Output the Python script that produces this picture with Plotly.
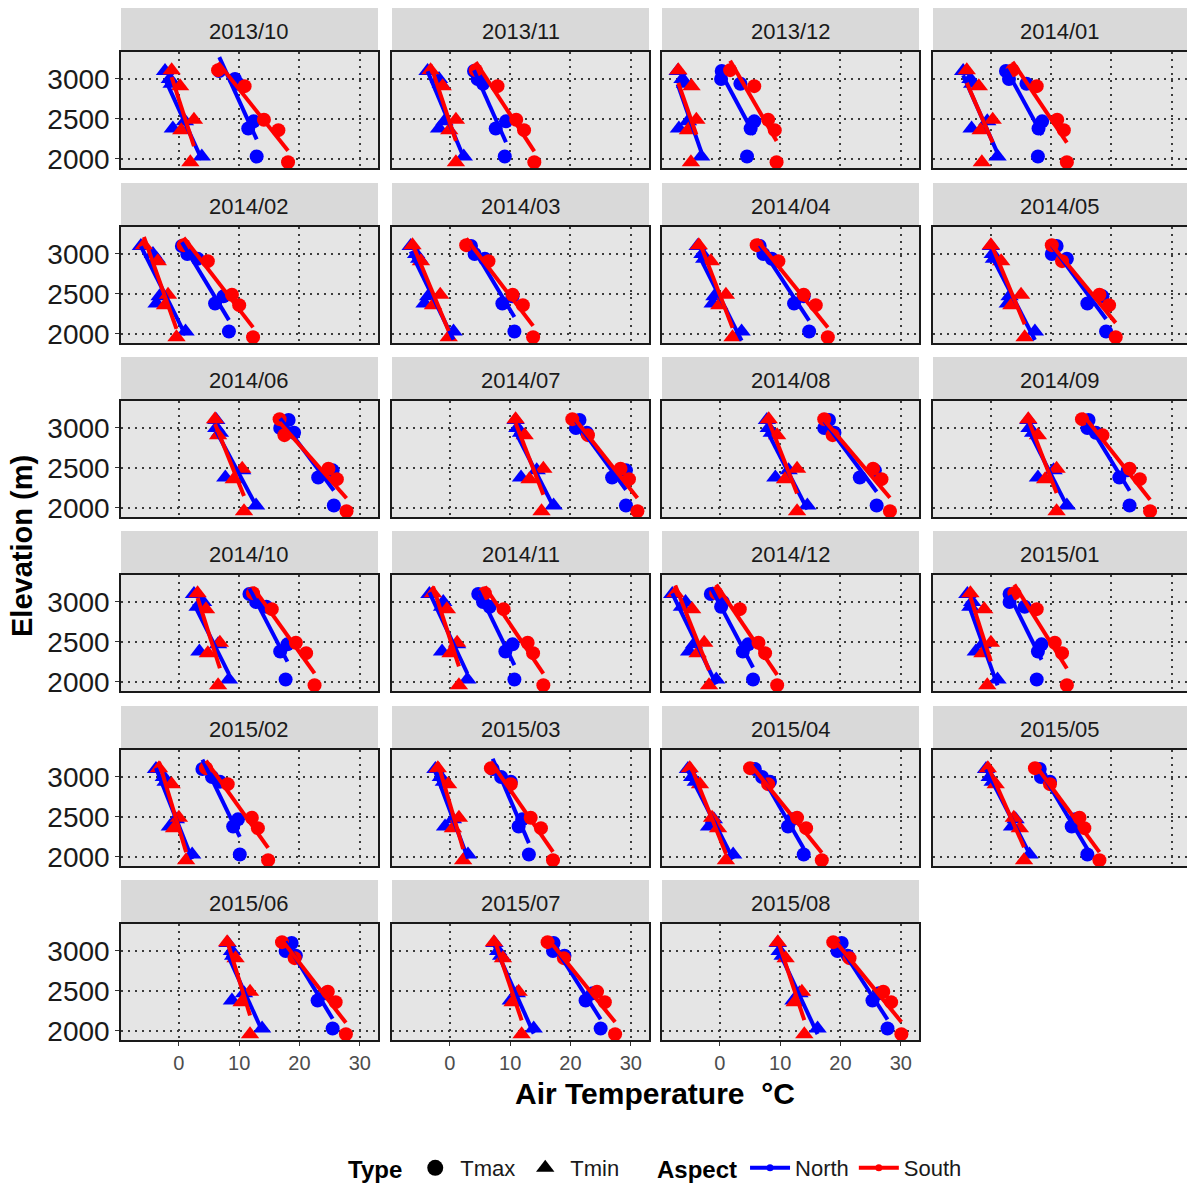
import numpy as np
import plotly.graph_objects as go

months = ["2013/10", "2013/11", "2013/12", "2014/01", "2014/02", "2014/03",
          "2014/04", "2014/05", "2014/06", "2014/07", "2014/08", "2014/09",
          "2014/10", "2014/11", "2014/12", "2015/01", "2015/02", "2015/03",
          "2015/04", "2015/05", "2015/06", "2015/07", "2015/08"]

elev_north = [3100, 3000, 2940, 2470, 2380, 2030]
elev_south = [3110, 2910, 2490, 2360, 1960]

north_tmin = [
    [-2.3, -1.5, -1.2, 1.0, -1.0, 3.8],
    [-3.7, -1.8, -1.5, -0.9, -1.8, 2.3],
    [-7.0, -6.2, -5.8, -5.3, -6.8, -3.1],
    [-4.6, -3.4, -3.1, -0.6, -3.2, 1.1],
    [-6.3, -4.3, -3.7, -3.2, -3.7, 1.1],
    [-6.5, -5.6, -5.1, -3.6, -4.2, 0.6],
    [-3.7, -2.9, -2.6, -0.9, -1.2, 3.6],
    [0.0, 0.3, 0.5, 3.1, 2.8, 7.3],
    [6.2, 6.2, 6.8, 10.5, 7.7, 12.8],
    [10.9, 11.2, 11.8, 14.4, 11.8, 17.2],
    [7.8, 8.1, 8.6, 11.4, 9.2, 14.5],
    [6.2, 6.4, 7.0, 10.4, 7.8, 12.6],
    [2.5, 4.0, 3.1, 6.5, 3.4, 8.3],
    [-3.4, -1.1, -1.3, 1.2, -1.3, 2.9],
    [-7.9, -5.7, -6.3, -4.3, -5.1, -0.6],
    [-3.9, -3.1, -3.4, -1.4, -2.5, 1.1],
    [-3.8, -2.5, -2.2, -0.5, -1.5, 2.2],
    [-2.4, -1.5, -1.0, 0.5, -0.8, 3.0],
    [-5.3, -4.6, -4.0, -1.0, -1.8, 2.2],
    [-0.8, -0.2, 0.3, 4.1, 3.5, 6.4],
    [8.1, 8.8, 9.0, 10.8, 8.8, 13.8],
    [7.4, 8.0, 8.5, 11.1, 10.1, 13.9],
    [9.6, 9.9, 10.4, 13.2, 12.2, 16.2],
]

south_tmin = [
    [-1.2, 0.2, 2.5, 0.4, 1.9],
    [-3.2, -1.2, 1.0, -0.1, 1.0],
    [-6.9, -4.7, -3.9, -5.3, -4.8],
    [-4.0, -2.0, 0.3, -1.7, -1.5],
    [-5.8, -3.5, -1.8, -2.3, -0.4],
    [-6.2, -4.8, -1.6, -2.8, -0.2],
    [-3.5, -1.5, 1.0, -0.1, 2.1],
    [0.0, 1.7, 5.0, 3.4, 5.6],
    [6.0, 6.5, 10.5, 9.1, 10.8],
    [10.9, 12.4, 15.5, 13.2, 15.2],
    [8.1, 9.5, 12.8, 10.8, 12.8],
    [6.2, 7.8, 10.9, 9.0, 10.9],
    [3.1, 4.5, 6.8, 4.8, 6.5],
    [-2.8, -0.5, 1.2, 0.1, 1.5],
    [-7.4, -4.6, -2.6, -3.7, -1.8],
    [-3.4, -1.1, 0.0, -1.4, -0.6],
    [-3.3, -1.2, 0.0, -0.8, 1.2],
    [-2.0, -0.3, 1.5, 0.5, 2.2],
    [-5.0, -3.3, -1.3, -0.3, 1.0],
    [-0.5, 0.8, 3.8, 4.8, 5.5],
    [8.0, 9.4, 11.8, 10.4, 11.8],
    [7.3, 8.8, 11.4, 10.4, 11.9],
    [9.6, 10.9, 13.6, 12.4, 14.0],
]

north_tmax = [
    [6.7, 9.3, 9.8, 12.4, 11.5, 12.9],
    [4.0, 4.6, 5.5, 9.3, 7.6, 9.1],
    [0.3, 0.2, 3.4, 5.7, 5.1, 4.5],
    [2.5, 3.0, 5.9, 8.5, 7.9, 7.8],
    [0.5, 1.4, 3.1, 7.4, 6.0, 8.3],
    [3.5, 4.1, 5.8, 10.4, 8.7, 10.7],
    [6.6, 7.2, 8.6, 13.9, 12.3, 14.8],
    [10.9, 10.1, 12.6, 18.5, 16.0, 19.1],
    [18.2, 16.8, 19.1, 25.5, 23.1, 25.7],
    [21.5, 20.9, 22.7, 29.2, 26.9, 29.2],
    [18.1, 17.3, 19.0, 25.7, 23.2, 26.0],
    [16.2, 16.0, 17.4, 22.7, 21.3, 23.0],
    [11.7, 12.8, 14.5, 18.0, 16.8, 17.7],
    [4.7, 5.5, 6.6, 10.4, 9.2, 10.7],
    [-1.5, 0.5, 0.2, 4.7, 3.8, 5.5],
    [3.1, 3.1, 5.6, 8.4, 7.8, 7.6],
    [3.9, 5.5, 6.8, 9.8, 9.0, 10.1],
    [7.1, 8.5, 10.1, 12.0, 11.4, 13.1],
    [5.8, 7.0, 8.3, 12.0, 11.3, 13.9],
    [8.1, 8.3, 9.8, 14.0, 13.4, 16.0],
    [18.7, 17.7, 19.4, 24.4, 23.0, 25.5],
    [17.2, 17.1, 19.0, 23.7, 22.5, 25.0],
    [20.2, 19.5, 21.2, 26.4, 25.3, 27.8],
]

south_tmax = [
    [6.5, 10.9, 14.1, 16.5, 18.1],
    [4.3, 7.9, 11.0, 12.3, 14.0],
    [1.7, 5.7, 8.0, 9.1, 9.4],
    [3.6, 7.6, 11.0, 12.1, 12.6],
    [0.8, 4.8, 8.8, 10.0, 12.3],
    [2.7, 6.4, 10.4, 12.1, 13.8],
    [6.1, 9.7, 13.9, 15.9, 17.9],
    [10.1, 11.8, 18.0, 19.6, 20.7],
    [16.7, 17.5, 24.8, 26.2, 27.8],
    [20.3, 22.9, 28.3, 29.7, 31.1],
    [17.3, 18.7, 25.4, 26.8, 28.2],
    [15.1, 18.5, 23.0, 24.7, 26.4],
    [12.3, 15.4, 19.4, 21.1, 22.5],
    [5.8, 8.9, 12.9, 13.8, 15.5],
    [-0.6, 3.3, 6.4, 7.5, 9.5],
    [3.9, 7.6, 10.6, 11.8, 12.6],
    [4.5, 8.1, 12.1, 13.1, 14.8],
    [6.8, 10.1, 13.4, 15.1, 17.1],
    [5.0, 8.0, 12.8, 14.3, 16.9],
    [7.3, 9.8, 14.7, 15.5, 18.0],
    [17.1, 19.2, 24.7, 26.0, 27.7],
    [16.2, 18.9, 24.4, 25.7, 27.4],
    [18.8, 21.5, 27.1, 28.4, 30.1],
]

x_ticks = [0, 10, 20, 30]
y_ticks = [2000, 2500, 3000]

# ---------------- layout geometry (pixels) ----------------
W, H = 1187, 1183
col_left = [121, 392, 662, 933]
col_w = [257, 257, 257, 254]
row_top = [52, 227, 401, 575, 750, 924]
panel_h = 116
strip_h = 44
px_per_deg = 6.03
x_min = -9.6
y_range = [1887, 3337]

BLUE = "#0000FF"
RED = "#FF0000"

fig = go.Figure()
layout = dict(
    width=W, height=H,
    margin=dict(l=0, r=0, t=0, b=0, autoexpand=False),
    paper_bgcolor="white",
    plot_bgcolor="#E5E5E5",
    font=dict(family="Liberation Sans, Arial, sans-serif", color="#1a1a1a"),
    shapes=[], annotations=[],
)


def px2x(p):
    return p / W


def px2y(p):
    return 1 - p / H


for k, m in enumerate(months):
    r, c = divmod(k, 4)
    sfx = "" if k == 0 else str(k + 1)
    xa, ya = "x" + sfx, "y" + sfx
    x0p, x1p = col_left[c], col_left[c] + col_w[c]
    y0p, y1p = row_top[r], row_top[r] + panel_h
    show_x = (r == 5)
    show_y = (c == 0)
    layout["xaxis" + sfx] = dict(
        domain=[px2x(x0p), px2x(x1p)], anchor=ya,
        range=[x_min, x_min + col_w[c] / px_per_deg],
        tickvals=x_ticks, showticklabels=show_x,
        ticks="outside" if show_x else "", ticklen=4, tickcolor="#333333",
        tickfont=dict(size=20, color="#4D4D4D"),
        showgrid=True, gridcolor="#3C3C3C", gridwidth=1.6, griddash="2px,5px",
        zeroline=False, showline=True, mirror=True, linecolor="#1a1a1a", linewidth=1.5,
    )
    layout["yaxis" + sfx] = dict(
        domain=[px2y(y1p), px2y(y0p)], anchor=xa,
        range=y_range, tickvals=y_ticks, showticklabels=show_y,
        ticks="outside" if show_y else "", ticklen=4, tickcolor="#333333",
        tickfont=dict(size=28, color="#1a1a1a"),
        showgrid=True, gridcolor="#3C3C3C", gridwidth=1.6, griddash="2px,5px",
        zeroline=False, showline=True, mirror=True, linecolor="#1a1a1a", linewidth=1.5,
    )
    # strip
    layout["shapes"].append(dict(
        type="rect", xref="paper", yref="paper",
        x0=px2x(x0p), x1=px2x(x1p), y0=px2y(y0p), y1=px2y(y0p - strip_h),
        fillcolor="#D9D9D9", line=dict(width=0), layer="below"))
    layout["annotations"].append(dict(
        text=m, xref="paper", yref="paper",
        x=px2x((x0p + x1p) / 2), y=px2y(y0p - strip_h / 2 + 1.5),
        showarrow=False, font=dict(size=22, color="#1a1a1a"),
        xanchor="center", yanchor="middle"))

    groups = [
        ("North", elev_north, north_tmax[k], "circle", BLUE, 14),
        ("North", elev_north, north_tmin[k], "triangle-up", BLUE, 16),
        ("South", elev_south, south_tmax[k], "circle", RED, 14),
        ("South", elev_south, south_tmin[k], "triangle-up", RED, 16),
    ]
    for name, el, temps, sym, col, size in groups:
        fig.add_trace(go.Scatter(
            x=temps, y=el, mode="markers", xaxis=xa, yaxis=ya,
            marker=dict(symbol=sym, color=col, size=size, line=dict(width=0)),
            showlegend=False, hoverinfo="x+y"))
    for name, el, temps, sym, col, size in groups:
        t = np.array(temps, dtype=float)
        e = np.array(el, dtype=float)
        slope, intercept = np.polyfit(t, e, 1)
        xs = np.array([t.min(), t.max()])
        fig.add_trace(go.Scatter(
            x=xs, y=intercept + slope * xs, mode="lines", xaxis=xa, yaxis=ya,
            line=dict(color=col, width=4), showlegend=False, hoverinfo="skip"))

# legend-only traces
fig.add_trace(go.Scatter(x=[None], y=[None], mode="markers", name="Tmax",
                         marker=dict(symbol="circle", color="black", size=16),
                         legend="legend"))
fig.add_trace(go.Scatter(x=[None], y=[None], mode="markers", name="Tmin",
                         marker=dict(symbol="triangle-up", color="black", size=18),
                         legend="legend"))
fig.add_trace(go.Scatter(x=[None], y=[None], mode="lines+markers", name="North",
                         line=dict(color=BLUE, width=4),
                         marker=dict(symbol="circle", color=BLUE, size=7),
                         legend="legend2"))
fig.add_trace(go.Scatter(x=[None], y=[None], mode="lines+markers", name="South",
                         line=dict(color=RED, width=4),
                         marker=dict(symbol="circle", color=RED, size=7),
                         legend="legend2"))

layout["legend"] = dict(
    orientation="h", x=px2x(346), y=px2y(1168), xanchor="left", yanchor="middle",
    title=dict(text="<b>Type</b>", font=dict(size=24, color="black"), side="left"),
    font=dict(size=22, color="#1a1a1a"), bgcolor="rgba(0,0,0,0)", itemwidth=40)
layout["legend2"] = dict(
    orientation="h", x=px2x(655), y=px2y(1168), xanchor="left", yanchor="middle",
    title=dict(text="<b>Aspect</b>", font=dict(size=24, color="black"), side="left"),
    font=dict(size=22, color="#1a1a1a"), bgcolor="rgba(0,0,0,0)", itemwidth=40)

# axis titles
layout["annotations"].append(dict(
    text="<b>Elevation (m)</b>", xref="paper", yref="paper",
    x=px2x(22), y=px2y((row_top[0] + row_top[5] + panel_h) / 2),
    showarrow=False, textangle=-90, font=dict(size=29, color="black"),
    xanchor="center", yanchor="middle"))
layout["annotations"].append(dict(
    text="<b>Air Temperature  \u00b0C</b>", xref="paper", yref="paper",
    x=px2x(655), y=px2y(1093),
    showarrow=False, font=dict(size=30, color="black"),
    xanchor="center", yanchor="middle"))

fig.update_layout(**layout)
fig.write_html("out.html")
